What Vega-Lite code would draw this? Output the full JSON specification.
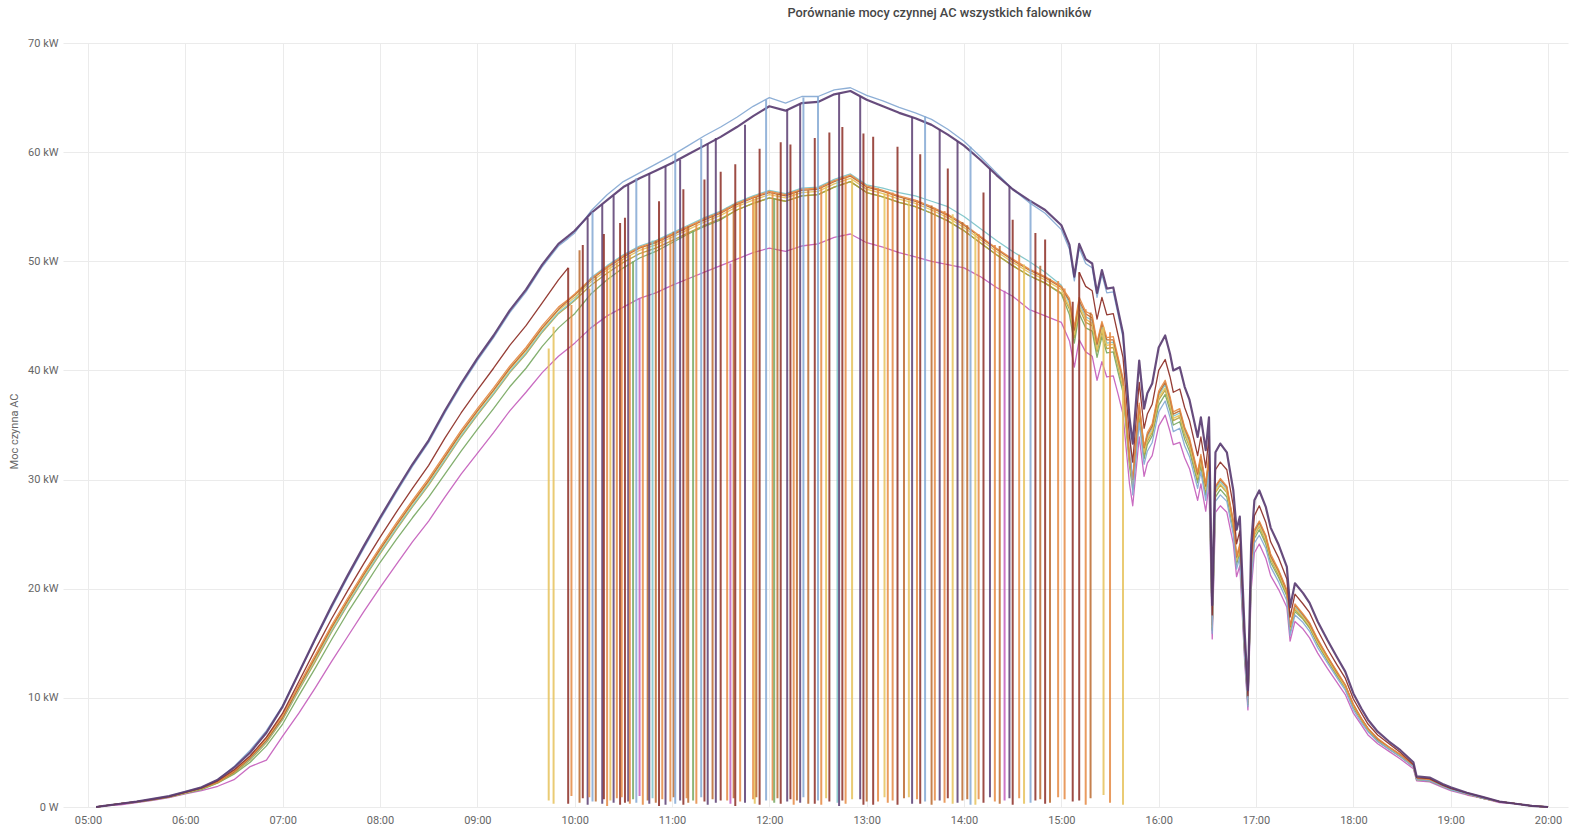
{
  "$schema": "https://vega.github.io/schema/vega-lite/v6.json",
  "width": 1505,
  "height": 764,
  "autosize": "none",
  "padding": {"left": 63, "top": 43, "right": 2, "bottom": 28},
  "background": "white",
  "title": {"text": "Porównanie mocy czynnej AC wszystkich falowników", "anchor": "middle", "dx": 124, "offset": 7, "baseline": "alphabetic", "fontSize": 12.8, "font": "Roboto", "fontWeight": 500, "color": "#464646"},
  "config": {"view": {"stroke": null}},
  "layer": [
    {
      "data": {"values": [
        {"t":305,"a":0,"b":0,"c":0,"d":0,"i":0,"e":0,"f":0,"h":0,"g":0,"k":0},
        {"t":310,"a":0.1,"b":0.1,"c":0.1,"d":0.1,"i":0.1,"e":0.1,"f":0.1,"h":0.1,"g":0.1,"k":0.1},
        {"t":320,"a":0.3,"b":0.3,"c":0.3,"d":0.3,"i":0.3,"e":0.3,"f":0.3,"h":0.3,"g":0.3,"k":0.2},
        {"t":330,"a":0.5,"b":0.5,"c":0.5,"d":0.5,"i":0.5,"e":0.45,"f":0.45,"h":0.5,"g":0.45,"k":0.4},
        {"t":340,"a":0.75,"b":0.75,"c":0.7,"d":0.7,"i":0.7,"e":0.7,"f":0.7,"h":0.7,"g":0.65,"k":0.6},
        {"t":350,"a":1.0,"b":1.0,"c":0.95,"d":0.95,"i":0.95,"e":0.95,"f":0.9,"h":0.95,"g":0.9,"k":0.85},
        {"t":360,"a":1.4,"b":1.4,"c":1.35,"d":1.35,"i":1.35,"e":1.3,"f":1.3,"h":1.3,"g":1.25,"k":1.2},
        {"t":370,"a":1.8,"b":1.8,"c":1.75,"d":1.75,"i":1.7,"e":1.7,"f":1.65,"h":1.7,"g":1.6,"k":1.5},
        {"t":380,"a":2.5,"b":2.5,"c":2.4,"d":2.3,"i":2.3,"e":2.3,"f":2.2,"h":2.3,"g":2.2,"k":1.9},
        {"t":390,"a":3.6,"b":3.7,"c":3.4,"d":3.3,"i":3.2,"e":3.2,"f":3.1,"h":3.2,"g":3.0,"k":2.5},
        {"t":400,"a":5.0,"b":5.2,"c":4.7,"d":4.6,"i":4.5,"e":4.5,"f":4.3,"h":4.4,"g":4.1,"k":3.7},
        {"t":410,"a":6.8,"b":7.0,"c":6.4,"d":6.3,"i":6.1,"e":6.1,"f":5.9,"h":6.0,"g":5.6,"k":4.3},
        {"t":420,"a":9.2,"b":9.3,"c":8.6,"d":8.4,"i":8.2,"e":8.2,"f":8.0,"h":8.1,"g":7.6,"k":6.5},
        {"t":430,"a":12.3,"b":12.3,"c":11.5,"d":11.2,"i":11.0,"e":10.9,"f":10.7,"h":10.8,"g":10.2,"k":8.6},
        {"t":440,"a":15.4,"b":15.3,"c":14.4,"d":13.9,"i":13.7,"e":13.6,"f":13.3,"h":13.5,"g":12.7,"k":10.9},
        {"t":450,"a":18.4,"b":18.2,"c":17.2,"d":16.6,"i":16.4,"e":16.3,"f":16.0,"h":16.1,"g":15.3,"k":13.3},
        {"t":460,"a":21.2,"b":21.0,"c":19.8,"d":19.1,"i":18.9,"e":18.8,"f":18.5,"h":18.6,"g":17.8,"k":15.6},
        {"t":470,"a":23.9,"b":23.7,"c":22.3,"d":21.5,"i":21.3,"e":21.2,"f":20.9,"h":21.0,"g":20.1,"k":17.9},
        {"t":480,"a":26.5,"b":26.3,"c":24.7,"d":23.8,"i":23.6,"e":23.5,"f":23.2,"h":23.3,"g":22.4,"k":20.1},
        {"t":490,"a":29.0,"b":28.8,"c":27.0,"d":26.0,"i":25.8,"e":25.7,"f":25.4,"h":25.5,"g":24.5,"k":22.2},
        {"t":500,"a":31.4,"b":31.2,"c":29.2,"d":28.1,"i":27.9,"e":27.8,"f":27.5,"h":27.6,"g":26.5,"k":24.3},
        {"t":510,"a":33.6,"b":33.4,"c":31.3,"d":30.1,"i":29.9,"e":29.8,"f":29.5,"h":29.6,"g":28.4,"k":26.2},
        {"t":520,"a":36.3,"b":36.1,"c":33.8,"d":32.3,"i":32.1,"e":32.0,"f":31.7,"h":31.8,"g":30.5,"k":28.4},
        {"t":530,"a":38.8,"b":38.6,"c":36.1,"d":34.5,"i":34.3,"e":34.2,"f":33.9,"h":34.0,"g":32.6,"k":30.5},
        {"t":540,"a":41.1,"b":40.9,"c":38.2,"d":36.5,"i":36.3,"e":36.2,"f":35.9,"h":36.0,"g":34.6,"k":32.4},
        {"t":550,"a":43.2,"b":43.0,"c":40.2,"d":38.4,"i":38.2,"e":38.1,"f":37.8,"h":37.9,"g":36.5,"k":34.3},
        {"t":560,"a":45.5,"b":45.3,"c":42.3,"d":40.4,"i":40.2,"e":40.1,"f":39.8,"h":39.9,"g":38.5,"k":36.3},
        {"t":570,"a":47.4,"b":47.2,"c":44.1,"d":42.1,"i":41.9,"e":41.8,"f":41.5,"h":41.6,"g":40.2,"k":38.0},
        {"t":580,"a":49.7,"b":49.5,"c":46.2,"d":44.1,"i":43.9,"e":43.8,"f":43.5,"h":43.6,"g":42.2,"k":39.8},
        {"t":590,"a":51.6,"b":51.4,"c":48.3,"d":45.8,"i":45.6,"e":45.5,"f":45.2,"h":45.3,"g":43.9,"k":41.3},
        {"t":596,"a":52.3,"b":52.1,"c":49.4,"d":46.5,"i":46.4,"e":46.2,"f":45.9,"h":46.0,"g":44.7,"k":42.0},
        {"t":600,"a":52.8,"b":52.6,"c":null,"d":47.0,"i":46.9,"e":46.7,"f":46.4,"h":46.5,"g":45.2,"k":42.5},
        {"t":610,"a":54.4,"b":54.6,"c":null,"d":48.4,"i":48.3,"e":48.1,"f":47.8,"h":48.5,"g":47.0,"k":43.9},
        {"t":620,"a":55.6,"b":56.1,"c":null,"d":49.5,"i":49.4,"e":49.2,"f":48.9,"h":49.6,"g":48.3,"k":45.0},
        {"t":630,"a":56.8,"b":57.3,"c":null,"d":50.5,"i":50.4,"e":50.2,"f":49.9,"h":50.6,"g":49.4,"k":45.8},
        {"t":640,"a":57.6,"b":58.1,"c":null,"d":51.3,"i":51.2,"e":51.0,"f":50.7,"h":51.4,"g":50.3,"k":46.6},
        {"t":650,"a":58.3,"b":58.9,"c":null,"d":51.8,"i":51.7,"e":51.5,"f":51.2,"h":51.9,"g":50.9,"k":47.1},
        {"t":660,"a":59.0,"b":59.7,"c":null,"d":52.5,"i":52.4,"e":52.2,"f":51.9,"h":52.6,"g":51.7,"k":47.8},
        {"t":670,"a":59.8,"b":60.6,"c":null,"d":53.2,"i":53.1,"e":52.9,"f":52.6,"h":53.3,"g":52.5,"k":48.4},
        {"t":680,"a":60.6,"b":61.5,"c":null,"d":53.9,"i":53.8,"e":53.6,"f":53.3,"h":54.0,"g":53.2,"k":49.0},
        {"t":690,"a":61.4,"b":62.3,"c":null,"d":54.5,"i":54.4,"e":54.2,"f":53.9,"h":54.6,"g":53.8,"k":49.6},
        {"t":700,"a":62.3,"b":63.2,"c":null,"d":55.3,"i":55.2,"e":55.0,"f":54.7,"h":55.4,"g":54.7,"k":50.2},
        {"t":710,"a":63.3,"b":64.2,"c":null,"d":55.9,"i":55.8,"e":55.6,"f":55.3,"h":56.0,"g":55.3,"k":50.8},
        {"t":720,"a":64.2,"b":65.0,"c":null,"d":56.4,"i":56.3,"e":56.1,"f":55.8,"h":56.5,"g":55.8,"k":51.2},
        {"t":730,"a":63.8,"b":64.5,"c":null,"d":56.1,"i":56.0,"e":55.8,"f":55.5,"h":56.2,"g":55.5,"k":50.9},
        {"t":740,"a":64.5,"b":65.1,"c":null,"d":56.6,"i":56.5,"e":56.3,"f":56.0,"h":56.7,"g":56.0,"k":51.4},
        {"t":750,"a":64.6,"b":65.1,"c":null,"d":56.7,"i":56.6,"e":56.4,"f":56.1,"h":56.8,"g":56.1,"k":51.6},
        {"t":760,"a":65.3,"b":65.7,"c":null,"d":57.4,"i":57.3,"e":57.1,"f":56.8,"h":57.5,"g":56.8,"k":52.2},
        {"t":770,"a":65.6,"b":65.9,"c":null,"d":57.9,"i":57.8,"e":57.6,"f":57.3,"h":58.0,"g":57.3,"k":52.5},
        {"t":780,"a":64.8,"b":65.2,"c":null,"d":56.9,"i":56.8,"e":56.6,"f":56.3,"h":57.0,"g":56.3,"k":51.7},
        {"t":790,"a":64.2,"b":64.7,"c":null,"d":56.5,"i":56.4,"e":56.2,"f":55.9,"h":56.7,"g":55.9,"k":51.3},
        {"t":800,"a":63.6,"b":64.1,"c":null,"d":56.0,"i":55.9,"e":55.7,"f":55.4,"h":56.3,"g":55.4,"k":50.8},
        {"t":810,"a":63.1,"b":63.6,"c":null,"d":55.6,"i":55.5,"e":55.3,"f":55.0,"h":56.0,"g":55.0,"k":50.4},
        {"t":820,"a":62.5,"b":63.0,"c":null,"d":55.0,"i":54.9,"e":54.7,"f":54.4,"h":55.5,"g":54.4,"k":50.0},
        {"t":830,"a":61.6,"b":62.1,"c":null,"d":54.3,"i":54.2,"e":54.0,"f":53.7,"h":55.0,"g":53.7,"k":49.7},
        {"t":840,"a":60.6,"b":61.0,"c":null,"d":53.4,"i":53.3,"e":53.1,"f":52.8,"h":54.1,"g":52.8,"k":49.4},
        {"t":850,"a":59.3,"b":59.6,"c":null,"d":52.3,"i":52.2,"e":52.0,"f":51.7,"h":53.0,"g":51.7,"k":48.6},
        {"t":860,"a":57.9,"b":58.1,"c":null,"d":51.2,"i":51.1,"e":50.9,"f":50.6,"h":51.9,"g":50.6,"k":47.6},
        {"t":870,"a":56.6,"b":56.6,"c":null,"d":50.2,"i":50.1,"e":49.9,"f":49.6,"h":50.9,"g":49.6,"k":46.8},
        {"t":880,"a":55.6,"b":55.4,"c":null,"d":49.3,"i":49.2,"e":49.0,"f":48.7,"h":50.0,"g":48.7,"k":45.6},
        {"t":890,"a":54.7,"b":54.4,"c":null,"d":48.6,"i":48.5,"e":48.3,"f":48.0,"h":49.0,"g":48.0,"k":45.0},
        {"t":900,"a":53.3,"b":52.9,"c":null,"d":47.7,"i":47.6,"e":47.4,"f":47.1,"h":47.8,"g":47.0,"k":44.4},
        {"t":905,"a":51.5,"b":51.1,"c":null,"d":46.6,"i":46.4,"e":45.8,"f":45.6,"h":46.1,"g":45.1,"k":42.7},
        {"t":908,"a":48.6,"b":48.2,"c":null,"d":44.0,"i":43.7,"e":43.3,"f":43.0,"h":43.5,"g":42.5,"k":40.3},
        {"t":911,"a":51.6,"b":51.2,"c":49.0,"d":46.7,"i":46.4,"e":45.9,"f":45.7,"h":46.2,"g":45.2,"k":42.8},
        {"t":915,"a":50.2,"b":49.8,"c":47.7,"d":45.4,"i":45.2,"e":44.7,"f":44.4,"h":44.9,"g":43.9,"k":41.7},
        {"t":919,"a":49.8,"b":49.4,"c":47.3,"d":45.1,"i":44.8,"e":44.3,"f":44.1,"h":44.6,"g":43.6,"k":41.3},
        {"t":922,"a":47.1,"b":46.7,"c":44.7,"d":42.6,"i":42.4,"e":41.9,"f":41.7,"h":42.2,"g":41.2,"k":39.1},
        {"t":925,"a":49.2,"b":48.8,"c":46.7,"d":44.5,"i":44.3,"e":43.8,"f":43.5,"h":44.0,"g":43.1,"k":40.8},
        {"t":928,"a":47.5,"b":47.1,"c":45.1,"d":43.0,"i":42.8,"e":42.3,"f":42.0,"h":42.5,"g":41.6,"k":39.4},
        {"t":932,"a":47.6,"b":47.2,"c":45.2,"d":43.1,"i":42.8,"e":42.4,"f":42.1,"h":42.6,"g":41.7,"k":39.5},
        {"t":935,"a":45.5,"b":45.1,"c":43.2,"d":41.2,"i":41.0,"e":40.5,"f":40.3,"h":40.7,"g":39.8,"k":37.8},
        {"t":938,"a":43.4,"b":43.0,"c":41.2,"d":39.3,"i":39.1,"e":38.6,"f":38.4,"h":38.8,"g":38.0,"k":36.0},
        {"t":942,"a":35.7,"b":35.3,"c":33.9,"d":32.3,"i":32.1,"e":31.8,"f":31.6,"h":32.0,"g":31.2,"k":29.6},
        {"t":944,"a":33.3,"b":28.6,"c":31.6,"d":30.1,"i":30.0,"e":29.6,"f":29.5,"h":29.8,"g":29.1,"k":27.6},
        {"t":948,"a":40.9,"b":35.2,"c":38.9,"d":37.0,"i":36.8,"e":36.4,"f":36.2,"h":36.6,"g":35.8,"k":33.9},
        {"t":951,"a":36.5,"b":31.4,"c":34.7,"d":33.0,"i":32.9,"e":32.5,"f":32.3,"h":32.7,"g":31.9,"k":30.3},
        {"t":953,"a":37.9,"b":32.6,"c":36.0,"d":34.3,"i":34.1,"e":33.7,"f":33.5,"h":33.9,"g":33.2,"k":31.5},
        {"t":956,"a":38.8,"b":33.4,"c":36.9,"d":35.1,"i":34.9,"e":34.5,"f":34.3,"h":34.7,"g":34.0,"k":32.2},
        {"t":960,"a":42.1,"b":36.2,"c":40.0,"d":38.1,"i":37.9,"e":37.5,"f":37.3,"h":37.7,"g":36.8,"k":34.9},
        {"t":964,"a":43.2,"b":37.2,"c":41.0,"d":39.1,"i":38.9,"e":38.4,"f":38.2,"h":38.7,"g":37.8,"k":35.9},
        {"t":967,"a":41.5,"b":35.7,"c":39.4,"d":37.6,"i":37.4,"e":36.9,"f":36.7,"h":37.1,"g":36.3,"k":34.4},
        {"t":969,"a":40.0,"b":34.4,"c":38.0,"d":36.2,"i":36.0,"e":35.6,"f":35.4,"h":35.8,"g":35.0,"k":33.2},
        {"t":973,"a":40.3,"b":34.7,"c":38.3,"d":36.5,"i":36.3,"e":35.9,"f":35.7,"h":36.1,"g":35.3,"k":33.4},
        {"t":976,"a":38.5,"b":33.1,"c":36.6,"d":34.8,"i":34.7,"e":34.3,"f":34.1,"h":34.5,"g":33.7,"k":32.0},
        {"t":979,"a":37.3,"b":32.1,"c":35.4,"d":33.8,"i":33.6,"e":33.2,"f":33.0,"h":33.4,"g":32.6,"k":31.0},
        {"t":984,"a":33.9,"b":29.2,"c":32.2,"d":30.7,"i":30.5,"e":30.2,"f":30.0,"h":30.3,"g":29.7,"k":28.1},
        {"t":986,"a":35.7,"b":30.7,"c":33.9,"d":32.3,"i":32.1,"e":31.8,"f":31.6,"h":32.0,"g":31.2,"k":29.6},
        {"t":989,"a":32.7,"b":28.1,"c":31.1,"d":29.6,"i":29.4,"e":29.1,"f":28.9,"h":29.3,"g":28.6,"k":27.1},
        {"t":991,"a":35.7,"b":30.7,"c":33.9,"d":32.3,"i":32.1,"e":31.8,"f":31.6,"h":32.0,"g":31.2,"k":29.6},
        {"t":993,"a":18.5,"b":15.9,"c":17.6,"d":16.7,"i":16.7,"e":16.5,"f":16.4,"h":16.6,"g":16.2,"k":15.4},
        {"t":995,"a":32.5,"b":28.0,"c":30.9,"d":29.4,"i":29.3,"e":28.9,"f":28.8,"h":29.1,"g":28.4,"k":27.0},
        {"t":998,"a":33.3,"b":28.6,"c":31.6,"d":30.1,"i":30.0,"e":29.6,"f":29.5,"h":29.8,"g":29.1,"k":27.6},
        {"t":1002,"a":32.5,"b":28.0,"c":30.9,"d":29.4,"i":29.3,"e":28.9,"f":28.8,"h":29.1,"g":28.4,"k":27.0},
        {"t":1006,"a":29.0,"b":24.9,"c":27.6,"d":26.2,"i":26.1,"e":25.8,"f":25.7,"h":26.0,"g":25.4,"k":24.1},
        {"t":1008,"a":25.4,"b":21.8,"c":24.1,"d":23.0,"i":22.9,"e":22.6,"f":22.5,"h":22.7,"g":22.2,"k":21.1},
        {"t":1010,"a":26.6,"b":22.9,"c":25.3,"d":24.1,"i":23.9,"e":23.7,"f":23.5,"h":23.8,"g":23.3,"k":22.1},
        {"t":1013,"a":16.0,"b":13.8,"c":15.2,"d":14.5,"i":14.4,"e":14.2,"f":14.2,"h":14.3,"g":14.0,"k":13.3},
        {"t":1015,"a":10.7,"b":9.2,"c":10.2,"d":9.7,"i":9.6,"e":9.5,"f":9.5,"h":9.6,"g":9.4,"k":8.9},
        {"t":1017,"a":24.0,"b":20.6,"c":22.8,"d":21.7,"i":21.6,"e":21.4,"f":21.2,"h":21.5,"g":21.0,"k":19.9},
        {"t":1019,"a":28.1,"b":24.2,"c":26.7,"d":25.4,"i":25.3,"e":25.0,"f":24.9,"h":25.1,"g":24.6,"k":23.3},
        {"t":1022,"a":29.0,"b":24.9,"c":27.6,"d":26.2,"i":26.1,"e":25.8,"f":25.7,"h":26.0,"g":25.4,"k":24.1},
        {"t":1026,"a":27.5,"b":23.7,"c":26.1,"d":24.9,"i":24.8,"e":24.5,"f":24.3,"h":24.6,"g":24.1,"k":22.8},
        {"t":1029,"a":25.6,"b":22.0,"c":24.3,"d":23.2,"i":23.0,"e":22.8,"f":22.7,"h":22.9,"g":22.4,"k":21.2},
        {"t":1034,"a":24.0,"b":20.6,"c":22.8,"d":21.7,"i":21.6,"e":21.4,"f":21.2,"h":21.5,"g":21.0,"k":19.9},
        {"t":1039,"a":22.0,"b":18.9,"c":20.9,"d":19.9,"i":19.8,"e":19.6,"f":19.5,"h":19.7,"g":19.3,"k":18.3},
        {"t":1041,"a":18.3,"b":15.7,"c":17.4,"d":16.6,"i":16.5,"e":16.3,"f":16.2,"h":16.4,"g":16.0,"k":15.2},
        {"t":1044,"a":20.5,"b":17.6,"c":19.5,"d":18.6,"i":18.5,"e":18.2,"f":18.1,"h":18.3,"g":17.9,"k":17.0},
        {"t":1049,"a":19.6,"b":16.9,"c":18.6,"d":17.7,"i":17.6,"e":17.4,"f":17.3,"h":17.5,"g":17.2,"k":16.3},
        {"t":1053,"a":18.7,"b":16.1,"c":17.8,"d":16.9,"i":16.8,"e":16.6,"f":16.5,"h":16.7,"g":16.4,"k":15.5},
        {"t":1058,"a":17.0,"b":14.6,"c":16.2,"d":15.4,"i":15.3,"e":15.1,"f":15.0,"h":15.2,"g":14.9,"k":14.1},
        {"t":1064,"a":15.3,"b":13.2,"c":14.5,"d":13.8,"i":13.8,"e":13.6,"f":13.5,"h":13.7,"g":13.4,"k":12.7},
        {"t":1070,"a":13.7,"b":11.8,"c":13.0,"d":12.4,"i":12.3,"e":12.2,"f":12.1,"h":12.3,"g":12.0,"k":11.4},
        {"t":1075,"a":12.4,"b":10.7,"c":11.8,"d":11.2,"i":11.2,"e":11.0,"f":11.0,"h":11.1,"g":10.9,"k":10.3},
        {"t":1080,"a":10.4,"b":8.9,"c":9.9,"d":9.4,"i":9.4,"e":9.3,"f":9.2,"h":9.3,"g":9.1,"k":8.6},
        {"t":1085,"a":9.0,"b":7.7,"c":8.6,"d":8.1,"i":8.1,"e":8.0,"f":8.0,"h":8.1,"g":7.9,"k":7.5},
        {"t":1089,"a":8.0,"b":6.9,"c":7.6,"d":7.2,"i":7.2,"e":7.1,"f":7.1,"h":7.2,"g":7.0,"k":6.6},
        {"t":1095,"a":6.9,"b":6.0,"c":6.6,"d":6.3,"i":6.2,"e":6.2,"f":6.1,"h":6.2,"g":6.0,"k":5.8},
        {"t":1102,"a":6.0,"b":5.3,"c":5.8,"d":5.5,"i":5.5,"e":5.4,"f":5.4,"h":5.4,"g":5.3,"k":5.1},
        {"t":1109,"a":5.2,"b":4.6,"c":5.0,"d":4.8,"i":4.8,"e":4.7,"f":4.7,"h":4.7,"g":4.6,"k":4.4},
        {"t":1117,"a":4.1,"b":3.7,"c":3.9,"d":3.8,"i":3.8,"e":3.7,"f":3.7,"h":3.7,"g":3.7,"k":3.5},
        {"t":1119,"a":2.8,"b":2.5,"c":2.7,"d":2.6,"i":2.6,"e":2.6,"f":2.5,"h":2.6,"g":2.5,"k":2.4},
        {"t":1127,"a":2.7,"b":2.4,"c":2.6,"d":2.5,"i":2.5,"e":2.5,"f":2.4,"h":2.5,"g":2.4,"k":2.3},
        {"t":1135,"a":2.1,"b":1.9,"c":2.0,"d":2.0,"i":2.0,"e":1.9,"f":1.9,"h":1.9,"g":1.9,"k":1.8},
        {"t":1140,"a":1.8,"b":1.6,"c":1.7,"d":1.7,"i":1.7,"e":1.7,"f":1.6,"h":1.6,"g":1.6,"k":1.5},
        {"t":1150,"a":1.3,"b":1.2,"c":1.3,"d":1.2,"i":1.2,"e":1.2,"f":1.2,"h":1.2,"g":1.2,"k":1.1},
        {"t":1160,"a":0.9,"b":0.8,"c":0.9,"d":0.8,"i":0.8,"e":0.8,"f":0.8,"h":0.8,"g":0.8,"k":0.8},
        {"t":1170,"a":0.5,"b":0.5,"c":0.5,"d":0.5,"i":0.5,"e":0.5,"f":0.5,"h":0.5,"g":0.5,"k":0.4},
        {"t":1180,"a":0.3,"b":0.3,"c":0.3,"d":0.3,"i":0.3,"e":0.3,"f":0.3,"h":0.3,"g":0.3,"k":0.3},
        {"t":1190,"a":0.1,"b":0.1,"c":0.1,"d":0.1,"i":0.1,"e":0.1,"f":0.1,"h":0.1,"g":0.1,"k":0.1},
        {"t":1200,"a":0,"b":0,"c":0,"d":0,"i":0,"e":0,"f":0,"h":0,"g":0,"k":0}
      ]},
      "transform": [{"fold": ["k","g","f","h","e","i","d","b","c","a"], "as": ["s","v"]}],
      "mark": {"type": "line", "invalid": "break-paths-filter-domains", "strokeJoin": "round", "opacity": 0.92},
      "encoding": {
        "x": {"field": "t", "type": "quantitative",
          "scale": {"domain": [284.6, 1212.3], "nice": false, "zero": false},
          "axis": {"title": null, "values": [300,360,420,480,540,600,660,720,780,840,900,960,1020,1080,1140,1200],
            "labelExpr": "(floor(datum.value/60) < 10 ? '0' : '') + floor(datum.value/60) + ':00'",
            "domain": false, "ticks": false, "tickSize": 0, "grid": true, "gridColor": "#ebebeb", "gridWidth": 1,
            "labelColor": "#666666", "labelFont": "Roboto", "labelFontSize": 11, "labelPadding": 7}},
        "y": {"field": "v", "type": "quantitative",
          "scale": {"domain": [0, 70], "nice": false, "zero": true},
          "axis": {"title": "Moc czynna AC", "values": [0,10,20,30,40,50,60,70],
            "labelExpr": "datum.value == 0 ? '0 W' : datum.value + ' kW'",
            "domain": false, "ticks": false, "tickSize": 0, "grid": true, "gridColor": "#ebebeb", "gridWidth": 1,
            "labelColor": "#666666", "labelFont": "Roboto", "labelFontSize": 11, "labelPadding": 5,
            "titleFont": "Roboto", "titleFontSize": 11, "titleFontWeight": "normal", "titleColor": "#666666",
            "titleX": -49, "titleY": 388, "titleAngle": -90, "titleBaseline": "middle", "titleAlign": "center"}},
        "color": {"field": "s", "type": "nominal", "legend": null,
          "scale": {"domain": ["a","b","c","d","e","f","g","h","i","k"],
            "range": ["#5a3d72","#84a8d3","#8c2d24","#e58a43","#e6c25c","#b4a13c","#78a862","#7cc3c8","#bb6a2f","#c45ebc"]}},
        "strokeWidth": {"condition": {"test": "datum.s === 'a'", "value": 2.2}, "value": 1.3}
      }
    },
    {
      "data": {"values": [
        {"t":584,"s":"e","lo":0.6,"hi":42.0},{"t":587,"s":"e","lo":0.3,"hi":44.0},{"t":596,"s":"c","lo":0.3,"hi":49.4},
        {"t":598,"s":"d","lo":1.0,"hi":46.0},{"t":603,"s":"i","lo":0.4,"hi":51.0},{"t":605,"s":"c","lo":0.8,"hi":51.5},
        {"t":608,"s":"a","lo":0.2,"hi":54.0},{"t":609,"s":"d","lo":0.9,"hi":47.5},{"t":611,"s":"b","lo":0.5,"hi":54.5},
        {"t":613,"s":"i","lo":0.5,"hi":48.6},
        {"t":617,"s":"a","lo":0.3,"hi":55.2},{"t":618,"s":"c","lo":0.7,"hi":52.5},{"t":620,"s":"d","lo":0.1,"hi":49.5},
        {"t":622,"s":"e","lo":0.6,"hi":49.6},{"t":624,"s":"a","lo":0.4,"hi":56.0},{"t":626,"s":"d","lo":0.8,"hi":49.9},
        {"t":628,"s":"c","lo":0.2,"hi":53.5},{"t":629,"s":"d","lo":0.9,"hi":50.2},{"t":631,"s":"c","lo":0.4,"hi":54.0},
        {"t":633,"s":"a","lo":0.5,"hi":57.0},
        {"t":634,"s":"d","lo":0.3,"hi":50.6},{"t":636,"s":"g","lo":0.7,"hi":50.0},{"t":638,"s":"b","lo":0.4,"hi":57.6},
        {"t":640,"s":"k","lo":1.0,"hi":46.6},{"t":642,"s":"d","lo":0.2,"hi":51.4},{"t":645,"s":"i","lo":0.6,"hi":51.5},
        {"t":646,"s":"a","lo":0.3,"hi":58.1},{"t":648,"s":"h","lo":0.8,"hi":51.9},{"t":650,"s":"i","lo":0.4,"hi":51.9},
        {"t":652,"s":"c","lo":0.1,"hi":55.5},{"t":654,"s":"d","lo":0.7,"hi":52.1},{"t":656,"s":"a","lo":0.2,"hi":58.7},
        {"t":659,"s":"d","lo":0.5,"hi":52.5},
        {"t":661,"s":"i","lo":0.9,"hi":52.7},{"t":662,"s":"b","lo":0.3,"hi":59.9},{"t":665,"s":"a","lo":0.6,"hi":59.3},
        {"t":667,"s":"c","lo":0.2,"hi":56.6},{"t":669,"s":"d","lo":0.8,"hi":53.1},{"t":670,"s":"i","lo":0.4,"hi":53.2},
        {"t":673,"s":"g","lo":0.6,"hi":52.8},{"t":675,"s":"d","lo":0.3,"hi":53.5},{"t":678,"s":"b","lo":0.9,"hi":61.2},
        {"t":680,"s":"c","lo":0.5,"hi":57.5},{"t":682,"s":"a","lo":0.2,"hi":60.8},{"t":685,"s":"i","lo":0.7,"hi":54.2},
        {"t":687,"s":"a","lo":0.4,"hi":61.3},{"t":690,"s":"c","lo":0.6,"hi":58.2},{"t":694,"s":"d","lo":0.6,"hi":54.9},{"t":696,"s":"k","lo":0.3,"hi":49.8},
        {"t":698,"s":"i","lo":0.8,"hi":55.2},{"t":699,"s":"c","lo":0.1,"hi":58.9},{"t":702,"s":"d","lo":0.5,"hi":55.4},
        {"t":705,"s":"a","lo":0.4,"hi":62.5},
        {"t":710,"s":"d","lo":0.7,"hi":55.9},{"t":711,"s":"e","lo":0.3,"hi":55.6},{"t":712,"s":"i","lo":0.9,"hi":55.9},
        {"t":714,"s":"c","lo":0.2,"hi":60.3},{"t":718,"s":"b","lo":0.6,"hi":64.8},{"t":722,"s":"d","lo":0.6,"hi":56.4},{"t":723,"s":"g","lo":0.4,"hi":55.8},
        {"t":725,"s":"i","lo":0.8,"hi":56.2},{"t":727,"s":"c","lo":0.3,"hi":60.9},{"t":731,"s":"a","lo":0.5,"hi":63.9},
        {"t":733,"s":"c","lo":0.7,"hi":60.7},{"t":735,"s":"d","lo":0.2,"hi":56.4},{"t":737,"s":"i","lo":0.6,"hi":56.4},
        {"t":739,"s":"a","lo":0.4,"hi":64.4},{"t":741,"s":"b","lo":0.9,"hi":65.0},{"t":744,"s":"i","lo":0.3,"hi":56.5},{"t":748,"s":"c","lo":0.3,"hi":61.3},
        {"t":750,"s":"b","lo":0.6,"hi":65.1},{"t":752,"s":"d","lo":0.2,"hi":56.8},{"t":755,"s":"e","lo":0.8,"hi":56.9},
        {"t":757,"s":"c","lo":0.5,"hi":61.8},
        {"t":762,"s":"h","lo":0.4,"hi":57.4},{"t":763,"s":"a","lo":0.1,"hi":65.4},{"t":765,"s":"c","lo":0.6,"hi":62.3},
        {"t":767,"s":"d","lo":0.3,"hi":57.7},{"t":771,"s":"e","lo":0.7,"hi":57.5},{"t":776,"s":"a","lo":0.7,"hi":65.1},{"t":778,"s":"c","lo":0.2,"hi":61.7},
        {"t":780,"s":"i","lo":0.5,"hi":56.8},{"t":784,"s":"c","lo":0.2,"hi":61.4},{"t":787,"s":"d","lo":0.5,"hi":56.7},
        {"t":791,"s":"e","lo":0.9,"hi":56.2},{"t":793,"s":"d","lo":0.4,"hi":56.4},
        {"t":796,"s":"d","lo":0.6,"hi":56.3},{"t":799,"s":"c","lo":0.2,"hi":60.5},{"t":803,"s":"i","lo":0.8,"hi":55.8},
        {"t":806,"s":"e","lo":0.9,"hi":55.6},
        {"t":808,"s":"a","lo":0.3,"hi":63.2},{"t":811,"s":"d","lo":0.7,"hi":55.6},{"t":813,"s":"c","lo":0.3,"hi":59.8},{"t":816,"s":"b","lo":0.5,"hi":63.3},
        {"t":820,"s":"i","lo":0.2,"hi":55.1},{"t":822,"s":"d","lo":0.6,"hi":54.9},{"t":825,"s":"a","lo":0.6,"hi":62.1},{"t":828,"s":"d","lo":0.4,"hi":54.6},
        {"t":830,"s":"c","lo":0.8,"hi":58.5},{"t":833,"s":"e","lo":0.3,"hi":54.3},{"t":836,"s":"a","lo":0.4,"hi":61.0},{"t":839,"s":"i","lo":0.6,"hi":53.6},
        {"t":842,"s":"i","lo":0.7,"hi":53.3},
        {"t":844,"s":"b","lo":0.2,"hi":60.5},{"t":847,"s":"e","lo":0.2,"hi":52.6},{"t":849,"s":"d","lo":0.7,"hi":52.5},{"t":852,"s":"c","lo":0.4,"hi":56.3},
        {"t":856,"s":"a","lo":0.9,"hi":58.5},{"t":859,"s":"d","lo":0.5,"hi":51.5},{"t":862,"s":"i","lo":0.3,"hi":51.4},{"t":865,"s":"k","lo":0.6,"hi":47.3},
        {"t":868,"s":"a","lo":0.8,"hi":56.9},
        {"t":870,"s":"c","lo":0.2,"hi":53.8},{"t":874,"s":"d","lo":0.8,"hi":50.6},{"t":877,"s":"e","lo":0.3,"hi":49.7},{"t":881,"s":"b","lo":0.4,"hi":55.6},
        {"t":884,"s":"c","lo":0.6,"hi":52.6},
        {"t":887,"s":"i","lo":0.7,"hi":49.6},{"t":890,"s":"c","lo":0.3,"hi":52.0},{"t":893,"s":"i","lo":0.4,"hi":48.4},{"t":898,"s":"d","lo":0.9,"hi":48.2},
        {"t":902,"s":"d","lo":0.7,"hi":47.5},
        {"t":907,"s":"c","lo":0.5,"hi":46.3},{"t":911,"s":"c","lo":0.6,"hi":49.0},{"t":915,"s":"d","lo":0.2,"hi":45.6},
        {"t":918,"s":"i","lo":0.8,"hi":45.3},{"t":926,"s":"e","lo":1.1,"hi":44.0},{"t":930,"s":"d","lo":0.4,"hi":43.5},
        {"t":938,"s":"e","lo":0.2,"hi":38.6}
      ]},
      "mark": {"type": "rule", "strokeWidth": 2, "opacity": 0.85},
      "encoding": {
        "x": {"field": "t", "type": "quantitative", "title": null},
        "y": {"field": "lo", "type": "quantitative", "title": "Moc czynna AC"},
        "y2": {"field": "hi"},
        "color": {"field": "s", "type": "nominal", "legend": null}
      }
    }
  ]
}
